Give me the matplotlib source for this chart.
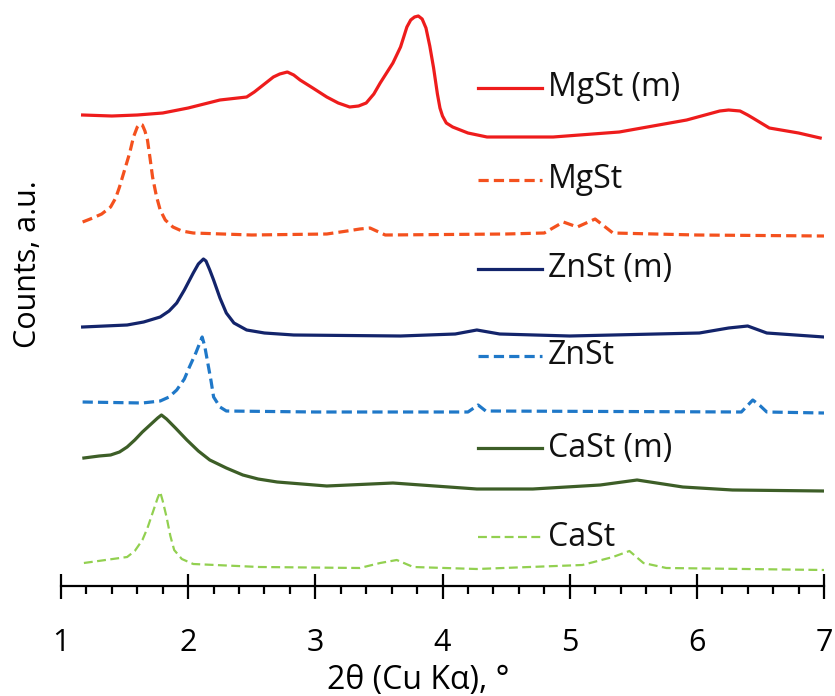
import numpy as np
import matplotlib
matplotlib.use("Agg")
import matplotlib.pyplot as plt
from matplotlib.lines import Line2D
from matplotlib.ticker import MultipleLocator

# XRD patterns, stacked (a.u. = height above the axis)
mgst_m_x = [1.17, 1.4, 1.6, 1.8, 2.0, 2.25, 2.46, 2.52, 2.57, 2.62, 2.67, 2.72, 2.78, 2.83, 2.88,
            2.93, 2.98, 3.09, 3.18, 3.27, 3.34, 3.4, 3.46, 3.51, 3.56, 3.61, 3.67, 3.72, 3.75,
            3.78, 3.81, 3.84, 3.87, 3.9, 3.93, 3.96, 3.98, 4.0, 4.03, 4.08, 4.2, 4.35,
            4.87, 5.39, 5.92, 6.18, 6.25, 6.34, 6.4, 6.44, 6.57, 6.8, 6.97]
mgst_m_y = [471, 470, 471, 473, 478, 486, 489, 494, 499, 504, 509, 512, 514, 511, 506,
            502, 498, 489, 483, 479, 480, 483, 492, 503, 513, 523, 539, 559, 566,
            569, 570, 567, 558, 540, 518, 492, 478, 470, 463, 459, 453, 449,
            449, 454, 466, 475, 476, 475, 471, 468, 458, 453, 448]

mgst_x = [1.17, 1.25, 1.32, 1.39, 1.43, 1.46, 1.5, 1.54, 1.57, 1.6, 1.62, 1.64, 1.66, 1.68, 1.7,
          1.72, 1.75, 1.78, 1.82, 1.88, 1.95, 2.04, 2.5, 3.09, 3.25, 3.35, 3.43, 3.55, 4.5,
          4.8, 4.95, 5.06, 5.2, 5.34, 6.0, 7.0]
mgst_y = [364, 368, 372, 379, 388, 399, 416, 433, 449, 459, 462, 461, 455, 446, 428,
          409, 390, 376, 366, 359, 355, 353, 351, 352, 355, 357, 358, 351, 352,
          353, 364, 359, 367, 353, 351, 350]

znst_m_x = [1.17, 1.52, 1.65, 1.78, 1.85, 1.91, 1.97, 2.04, 2.08, 2.12, 2.14, 2.17, 2.2, 2.25,
            2.3, 2.36, 2.46, 2.6, 2.83, 3.67, 4.1, 4.27, 4.45, 5.0, 6.02, 6.25, 6.4, 6.55, 7.0]
znst_m_y = [259, 261, 264, 269, 275, 283, 296, 313, 322, 327, 325, 316, 306, 288,
            273, 263, 256, 253, 251, 250, 252, 256, 252, 250, 253, 258, 260, 253, 249]

znst_x = [1.17, 1.64, 1.78, 1.85, 1.91, 1.97, 2.01, 2.06, 2.11, 2.13, 2.15, 2.18, 2.2, 2.25,
          2.3, 3.0, 4.2, 4.28, 4.34, 6.35, 6.44, 6.5, 6.55, 7.0]
znst_y = [184, 183, 185, 189, 196, 207, 219, 233, 249, 240, 226, 205, 189, 179,
          175, 174, 174, 181, 175, 174, 186, 180, 174, 173]

cast_m_x = [1.18, 1.3, 1.39, 1.46, 1.52, 1.58, 1.64, 1.7, 1.76, 1.79, 1.83, 1.9, 1.99, 2.08,
            2.17, 2.3, 2.43, 2.55, 2.7, 3.09, 3.61, 4.27, 4.71, 5.24, 5.53, 5.89, 6.28, 7.0]
cast_m_y = [128, 130, 131, 134, 139, 146, 154, 161, 168, 171, 167, 158, 146, 135,
            126, 118, 111, 107, 104, 100, 103, 97, 97, 101, 106, 99, 96, 95]

cast_x = [1.18, 1.52, 1.58, 1.64, 1.68, 1.72, 1.76, 1.78, 1.8, 1.83, 1.86, 1.89, 1.95, 2.04,
          2.56, 3.35, 3.51, 3.64, 3.77, 4.27, 5.1, 5.34, 5.47, 5.58, 5.76, 7.0]
cast_y = [23, 29, 35, 46, 58, 73, 88, 94, 85, 69, 50, 36, 27, 22,
          19, 18, 23, 26, 19, 17, 21, 29, 35, 23, 18, 16]

labels = ["MgSt (m)", "MgSt", "ZnSt (m)", "ZnSt", "CaSt (m)", "CaSt"]

# style per curve
colors = ["#ee1c1c", "#f4511e", "#13246b", "#1f78c8", "#3d5e27", "#92d050"]
styles = [dict(ls="-", lw=2.3),
          dict(ls=(0, (3.2, 1.6)), lw=2.3),
          dict(ls="-", lw=2.3),
          dict(ls=(0, (3.2, 1.6)), lw=2.3),
          dict(ls="-", lw=2.3),
          dict(ls=(0, (4, 2)), lw=1.6)]
# label rows, same units as the curves
label_h = [498, 406, 317, 230, 138, 49]

font = "Open Sans"
plt.rcParams["font.family"] = [font, "DejaVu Sans"]

fig = plt.figure(figsize=(8.35, 6.96), dpi=100)
ax = fig.add_axes([61 / 835, 1 - 586 / 696, 763 / 835, 586 / 696])

series = [(mgst_m_x, mgst_m_y), (mgst_x, mgst_y), (znst_m_x, znst_m_y),
          (znst_x, znst_y), (cast_m_x, cast_m_y), (cast_x, cast_y)]
for (x, y), c, st in zip(series, colors, styles):
    ax.plot(x, y, color=c, solid_joinstyle="round", dash_joinstyle="round", **st)

ax.set_xlim(1, 7)
ax.set_ylim(0, 586)

# inline legend
for lab, h, c, st in zip(labels, label_h, colors, styles):
    ax.add_line(Line2D([4.28, 4.78], [h, h], color=c, **st))
    ax.text(4.83, h, lab, fontsize=23, va="center", ha="left", color="#111111")

for s in ["top", "right", "left"]:
    ax.spines[s].set_visible(False)
ax.spines["bottom"].set_linewidth(1.6)
ax.set_yticks([])
ax.xaxis.set_major_locator(MultipleLocator(1))
ax.xaxis.set_minor_locator(MultipleLocator(0.2))
ax.tick_params(axis="x", which="major", direction="inout", length=18, width=1.6,
               labelsize=22, pad=21)
ax.tick_params(axis="x", which="minor", direction="out", length=6, width=1.6)

ax.set_xlabel("2θ (Cu Kα), °", fontsize=23)
ax.xaxis.label.set_va("center")
ax.xaxis.set_label_coords(0.468, -0.162)
ax.set_ylabel("Counts, a.u.", fontsize=22)
ax.yaxis.set_label_coords(-0.024, 0.55)

fig.savefig("out.png", dpi=100)
